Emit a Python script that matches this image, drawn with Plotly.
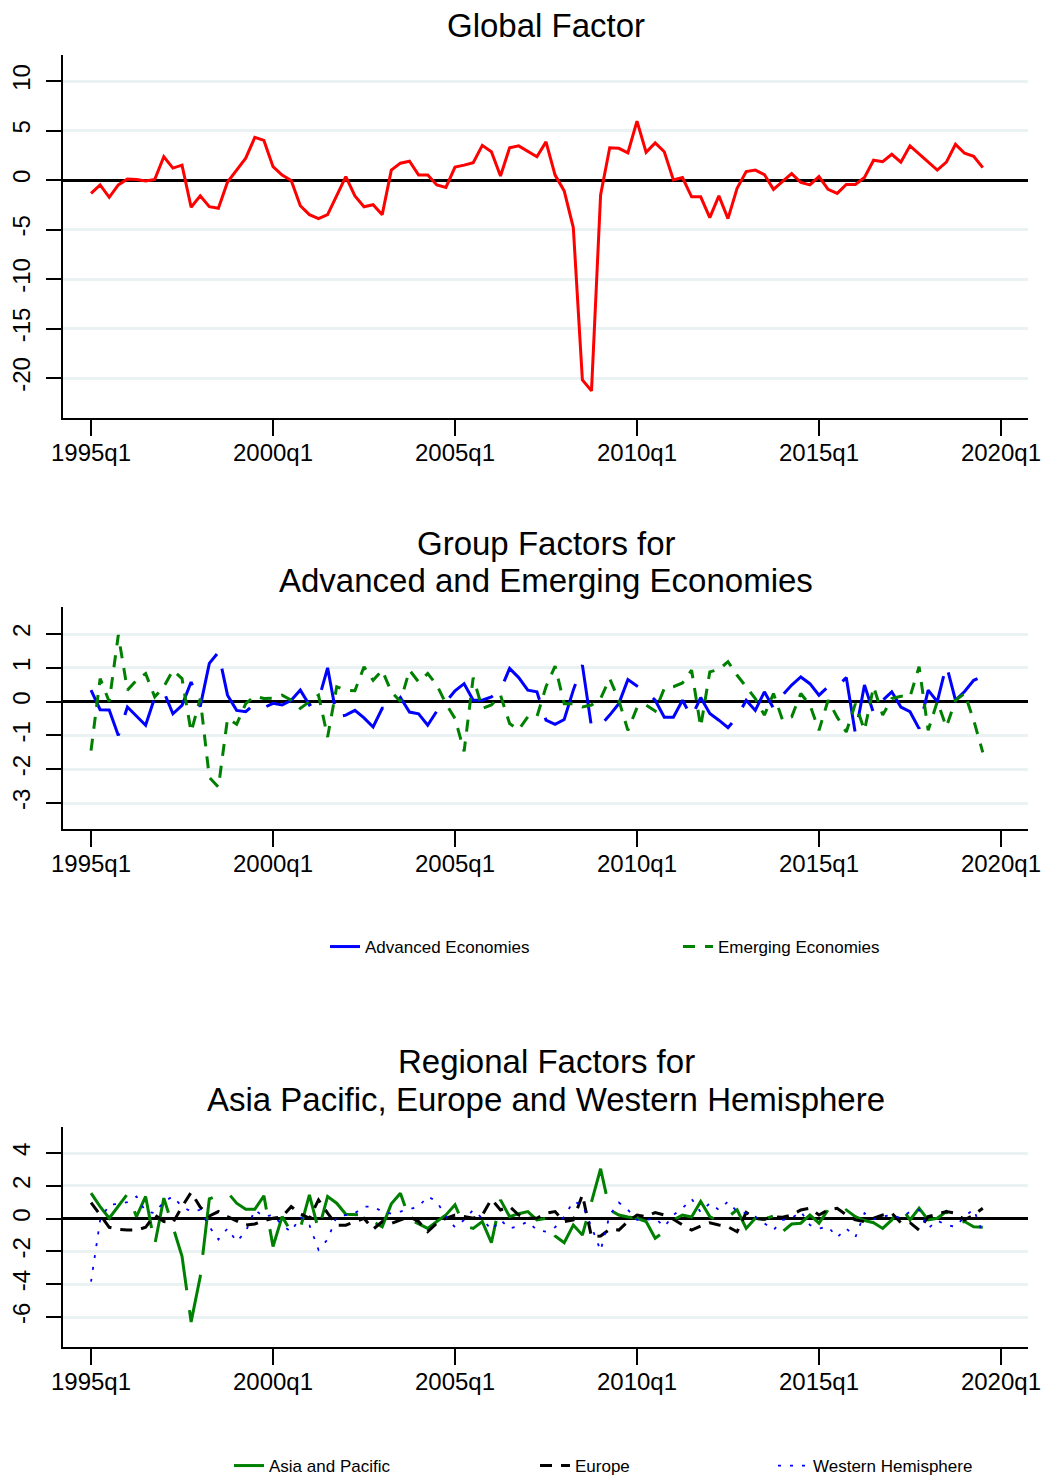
import plotly.graph_objects as go

# ---------------- data (quarterly, 1995q1 .. 2019q3) ----------------
start_year = 1995

global_factor = [
    -1.35, -0.5, -1.75, -0.5, 0.1, 0.05, -0.1, 0.05, 2.35, 1.2,
    1.5, -2.75, -1.6, -2.7, -2.85, -0.2, 1.0, 2.2, 4.3, 4.0,
    1.35, 0.5, -0.05, -2.6, -3.5, -3.9, -3.5, -1.6, 0.35, -1.6,
    -2.7, -2.5, -3.5, 1.0, 1.7, 1.9, 0.5, 0.5, -0.5, -0.75,
    1.3, 1.5, 1.75, 3.5, 2.85, 0.4, 3.25, 3.45, 2.9, 2.35,
    3.85, 0.5, -1.1, -4.8, -20.2, -21.3, -1.5, 3.25, 3.2, 2.75,
    5.95, 2.8, 3.75, 2.85, 0.0, 0.25, -1.7, -1.7, -3.8, -1.6,
    -3.9, -0.85, 0.85, 1.0, 0.55, -0.95, -0.15, 0.65, -0.25, -0.5,
    0.35, -0.95, -1.35, -0.45, -0.45, 0.25, 2.0, 1.85, 2.6, 1.8,
    3.45, 2.6, 1.8, 1.0, 1.8, 3.6, 2.7, 2.4, 1.25,
]

advanced = [
    0.34, -0.24, -0.25, -1.0, -0.16, -0.43, -0.7, 0.12, 0.29, -0.36,
    -0.11, 0.58, -0.15, 1.13, 1.46, 0.19, -0.26, -0.3, -0.06, -0.18,
    -0.05, -0.1, 0.04, 0.34, -0.1, 0.04, 1.0, -0.45, -0.4, -0.26,
    -0.48, -0.75, -0.2, -0.2, 0.12, -0.31, -0.36, -0.7, -0.28, -0.01,
    0.32, 0.53, 0.04, 0.04, 0.14, 0.34, 0.98, 0.71, 0.34, 0.29,
    -0.55, -0.67, -0.53, 0.34, 1.08, -0.75, -0.7, -0.4, -0.06, 0.65,
    0.46, 0.3, 0.04, -0.46, -0.46, 0.04, -0.46, 0.12, -0.35, -0.55,
    -0.77, -0.46, 0.04, -0.26, 0.29, -0.2, 0.19, 0.49, 0.73, 0.53,
    0.19, 0.44, 0.44, 0.71, -0.95, 0.49, -0.34, 0.04, 0.29, -0.16,
    -0.3, -0.8, 0.34, 0.0, 1.08, 0.04, 0.3, 0.63, 0.75,
]

emerging = [
    -1.45, 0.68, 0.0, 1.97, 0.34, 0.63, 0.83, 0.14, 0.44, 0.93,
    0.68, -0.9, 0.09, -2.24, -2.53, -0.5, -0.67, -0.06, 0.16, 0.09,
    0.1, 0.19, 0.04, -0.2, 0.0, 0.19, -1.05, 0.44, 0.34, 0.32,
    1.03, 0.63, 0.93, 0.29, 0.0, 0.93, 0.58, 0.83, 0.49, -0.06,
    -0.5, -1.47, 0.71, -0.2, -0.1, 0.19, -0.65, -0.83, -0.45, -0.45,
    0.44, 1.05, -0.06, -0.06, -0.16, -0.1, 0.09, 0.68, 0.04, -0.85,
    -0.18, -0.1, -0.28, 0.39, 0.44, 0.55, 0.93, -0.75, 0.88, 0.95,
    1.18, 0.78, 0.44, 0.09, -0.4, 0.24, -0.55, -0.45, 0.24, -0.1,
    -0.85, 0.04, -0.46, -0.9, -0.06, -0.85, 0.44, -0.4, 0.09, 0.16,
    0.14, 1.03, -0.85, 0.0, -0.75, 0.04, 0.24, -0.55, -1.5,
]

asia_pacific = [
    1.55, 0.73, 0.02, 0.73, 1.5, 0.12, 1.35, -1.6, 1.25, -0.5,
    -2.3, -6.3, -3.55, 1.2, 1.4, 1.6, 0.94, 0.57, 0.57, 1.39,
    -1.7, 0.12, -0.8, -0.6, 1.45, -0.7, 1.35, 0.94, 0.27, 0.25,
    0.22, -0.18, -0.5, 0.9, 1.55, -0.04, -0.33, -0.6, -0.18, 0.22,
    0.84, -0.45, -0.6, -0.18, -1.47, 1.14, 0.12, 0.3, 0.43, -0.08,
    0.02, -1.06, -1.47, -0.39, -1.0, 0.94, 3.04, 0.53, 0.22, 0.1,
    0.02, -0.18, -1.2, -0.8, -0.08, 0.22, 0.1, 1.04, 0.12, -0.18,
    0.1, 0.53, -0.6, 0.02, -0.04, 0.16, -0.8, -0.33, -0.28, 0.22,
    -0.28, 0.53, 0.22, 0.53, 0.12, -0.12, -0.25, -0.6, -0.08, 0.73,
    -0.08, 0.63, -0.08, 0.02, 0.43, -0.33, -0.18, -0.5, -0.53,
]

europe = [
    0.98, 0.22, -0.53, -0.65, -0.7, -0.7, -0.53, 0.22, -0.18, -0.25,
    0.73, 1.6, 0.7, 0.16, 0.43, 0.12, -0.12, -0.4, -0.33, -0.12,
    0.02, 0.12, 0.73, 0.29, 0.02, 1.14, 0.33, -0.4, -0.4, -0.18,
    0.02, -0.65, -0.18, -0.3, -0.1, 0.12, -0.18, -0.8, -0.28, 0.02,
    0.22, 0.12, 0.02, 0.22, 1.18, 0.53, 0.73, 0.22, 0.02, 0.02,
    0.33, 0.43, -0.18, -0.08, 1.45, -1.1, -1.06, -0.65, -0.7, -0.18,
    0.22, 0.12, 0.37, 0.22, -0.04, -0.39, -0.7, -0.45, -0.25, -0.39,
    -0.5, -0.8, 0.37, 0.02, -0.04, 0.12, 0.08, 0.22, 0.53, 0.63,
    0.22, 0.53, 0.63, 0.22, -0.08, -0.18, 0.02, 0.22, 0.33, -0.25,
    -0.25, -0.7, 0.12, 0.29, 0.43, 0.33, -0.08, 0.22, 0.63,
]

western_hemisphere = [
    -3.85, -0.1, 0.85, 0.9, 1.0, 1.35, 0.43, 0.33, 1.04, 1.35,
    0.73, 0.43, 0.53, -0.5, -1.27, -0.6, -1.4, -0.8, 0.53, 0.12,
    0.22, -0.4, -0.8, 0.12, -0.4, -1.9, -1.27, 0.12, 0.22, 0.33,
    0.73, 0.73, 0.43, 0.3, 0.43, 0.57, 0.73, 1.35, 1.04, 0.12,
    -0.53, -0.08, 0.53, 0.02, -0.7, -0.08, -0.6, -0.45, -0.18, -0.7,
    -0.8, -0.53, 0.12, 1.04, 0.84, -0.5, -1.96, 0.22, 0.98, 0.53,
    -0.08, -0.08, 0.02, -0.5, 0.22, 0.63, 1.2, 0.4, 0.94, 0.53,
    1.04, 0.43, 0.33, 0.12, -0.28, -0.7, -0.08, 0.02, 0.43, -0.39,
    -0.6, -0.5, -1.14, -0.6, -1.14, 0.33, -0.04, 0.12, 0.22, 0.02,
    0.43, 0.53, -0.6, -0.12, -0.39, -0.5, 0.12, 0.57, -0.9,
]

x_tick_vals = [1995, 2000, 2005, 2010, 2015, 2020]
x_tick_text = ["1995q1", "2000q1", "2005q1", "2010q1", "2015q1", "2020q1"]
y1_ticks = [-20, -15, -10, -5, 0, 5, 10]
y2_ticks = [-3, -2, -1, 0, 1, 2]
y3_ticks = [-6, -4, -2, 0, 2, 4]

titles = ["Global Factor",
          "Group Factors for", "Advanced and Emerging Economies",
          "Regional Factors for", "Asia Pacific, Europe and Western Hemisphere"]

# quarter positions expressed in years
quarters = [start_year + q / 4 for q in range(len(global_factor))]

# ---------------- figure ----------------
W, H = 1048, 1477
FONT = "Liberation Sans, Arial, Helvetica, sans-serif"


def py(px):  # pixel row -> paper y
    return 1 - px / H


def pxx(px):  # pixel column -> paper x
    return px / W


def hyphen_labels(vals):
    return [str(v).replace("\u2212", "-") for v in vals]


fig = go.Figure()

fig.add_trace(go.Scatter(x=quarters, y=global_factor, mode="lines",
                         line=dict(color="#ff0000", width=3),
                         showlegend=False, xaxis="x", yaxis="y"))

fig.add_trace(go.Scatter(x=quarters, y=advanced, mode="lines",
                         name="Advanced Economies",
                         line=dict(color="#0000ff", width=3, dash="60px,19px"),
                         xaxis="x2", yaxis="y2", legend="legend"))
fig.add_trace(go.Scatter(x=quarters, y=emerging, mode="lines",
                         name="Emerging Economies",
                         line=dict(color="#008000", width=3, dash="12px,10px"),
                         xaxis="x2", yaxis="y2", legend="legend2"))

fig.add_trace(go.Scatter(x=quarters, y=asia_pacific, mode="lines",
                         name="Asia and Pacific",
                         line=dict(color="#008000", width=3, dash="60px,20px"),
                         xaxis="x3", yaxis="y3", legend="legend3"))
fig.add_trace(go.Scatter(x=quarters, y=europe, mode="lines",
                         name="Europe",
                         line=dict(color="#000000", width=3, dash="12px,9px"),
                         xaxis="x3", yaxis="y3", legend="legend4"))
fig.add_trace(go.Scatter(x=quarters, y=western_hemisphere, mode="lines",
                         name="Western Hemisphere",
                         line=dict(color="#0000ff", width=1.8, dash="3px,9px"),
                         xaxis="x3", yaxis="y3", legend="legend5"))

x_dom = [pxx(63), pxx(1028)]
x_range = [start_year - 3.08 / 4, start_year + 102.97 / 4]

xcommon = dict(range=x_range, domain=x_dom, tickvals=x_tick_vals,
               ticktext=x_tick_text, ticks="outside", ticklen=16,
               tickwidth=1.5, tickcolor="black", showline=True,
               linecolor="black", linewidth=1.5, showgrid=False,
               zeroline=False, tickfont=dict(size=24, color="black"),
               ticklabelstandoff=-4, fixedrange=True, automargin=False)

ycommon = dict(ticks="outside", ticklen=15, tickwidth=1.5, tickcolor="black",
               showline=True, linecolor="black", linewidth=1.5,
               showgrid=True, gridcolor="#eaf2f3", gridwidth=3,
               zeroline=True, zerolinecolor="black", zerolinewidth=3,
               tickangle=-90, tickfont=dict(size=24, color="black"),
               ticklabelstandoff=7, fixedrange=True, automargin=False)


def leg(text_x, row_y):
    return dict(orientation="h", x=pxx(text_x - 40), xanchor="left",
                y=py(row_y), yanchor="middle", font=dict(size=17),
                bgcolor="rgba(0,0,0,0)", borderwidth=0)


fig.update_layout(
    width=W, height=H,
    margin=dict(l=0, r=0, t=0, b=0, autoexpand=False),
    paper_bgcolor="white", plot_bgcolor="white",
    font=dict(family=FONT, color="black"),
    xaxis=dict(anchor="y", **xcommon),
    xaxis2=dict(anchor="y2", **xcommon),
    xaxis3=dict(anchor="y3", **xcommon),
    yaxis=dict(anchor="x", domain=[py(418), py(55)],
               range=[-20 - 40 / 9.9, 10 + 26 / 9.9],
               tickvals=y1_ticks, ticktext=hyphen_labels(y1_ticks), **ycommon),
    yaxis2=dict(anchor="x2", domain=[py(829), py(607)],
                range=[-3 - 26 / 33.8, 2 + 27 / 33.8],
                tickvals=y2_ticks, ticktext=hyphen_labels(y2_ticks), **ycommon),
    yaxis3=dict(anchor="x3", domain=[py(1347), py(1127)],
                range=[-6 - 30 / 16.4, 4 + 26 / 16.4],
                tickvals=y3_ticks, ticktext=hyphen_labels(y3_ticks), **ycommon),
    legend=leg(365, 947),
    legend2=leg(718, 947),
    legend3=leg(269, 1466),
    legend4=leg(575, 1466),
    legend5=leg(813, 1466),
)

title_rows = [(titles[0], 25), (titles[1], 543), (titles[2], 581),
              (titles[3], 1061), (titles[4], 1099)]
for text, yrow in title_rows:
    fig.add_annotation(text=text, x=pxx(546), y=py(yrow), xref="paper",
                       yref="paper", xanchor="center", yanchor="middle",
                       showarrow=False, font=dict(size=33, color="black"))

fig.write_html("out.html")
